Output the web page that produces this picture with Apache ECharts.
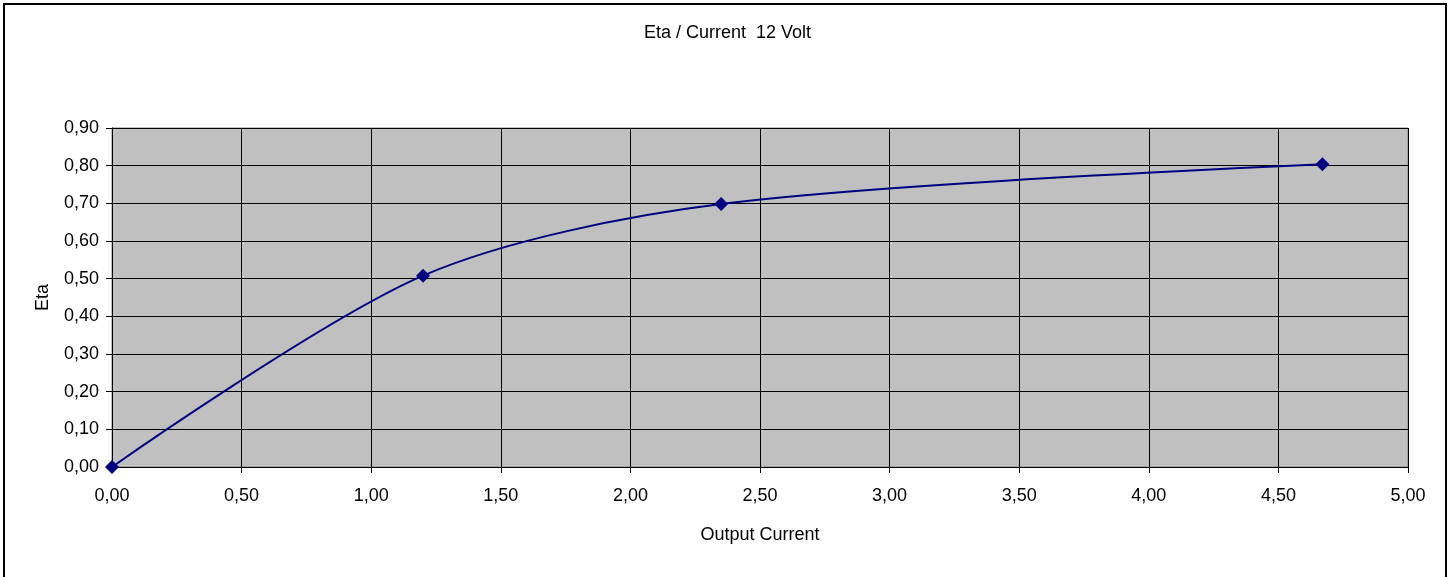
<!DOCTYPE html>
<html>
<head>
<meta charset="utf-8">
<script src="https://cdn.jsdelivr.net/npm/echarts@6/dist/echarts.min.js"></script>
<style>html,body{margin:0;padding:0;background:#fff}#c{width:1455px;height:577px}</style>
</head>
<body>
<div id="c"></div>
<script>
var titleText = 'Eta / Current  12 Volt';
var xName = 'Output Current';
var yName = 'Eta';
var currents = [0, 1.2, 2.35, 4.67];
var etaValues = [0, 0.508, 0.698, 0.804];

var fmt = function (v) { return v.toFixed(2).replace('.', ','); };
var FONT = 'Liberation Sans';
var FS = 18;
var chart = echarts.init(document.getElementById('c'));
chart.setOption({
  animation: false,
  backgroundColor: '#fff',
  title: {
    text: titleText, left: 'center', top: 19,
    textStyle: { fontFamily: FONT, fontSize: FS, fontWeight: 'normal', color: '#000' }
  },
  graphic: [{
    type: 'rect', shape: { x: 4, y: 4, width: 1442, height: 590 },
    style: { fill: 'none', stroke: '#000', lineWidth: 2 }, z: 100
  }],
  grid: { left: 112, top: 128, right: 47, bottom: 110, show: true, backgroundColor: '#c0c0c0', borderColor: '#808080', borderWidth: 1 },
  xAxis: {
    type: 'value', min: 0, max: 5, interval: 0.5,
    name: xName, nameLocation: 'middle', nameGap: 59,
    nameTextStyle: { fontFamily: FONT, fontSize: FS, color: '#000' },
    axisLine: { lineStyle: { color: '#000', width: 1 } },
    axisTick: { show: true, length: 6, lineStyle: { color: '#000' } },
    axisLabel: { formatter: fmt, fontFamily: FONT, fontSize: FS, color: '#000', margin: 20 },
    splitLine: { show: true, lineStyle: { color: '#000', width: 1 } }
  },
  yAxis: {
    type: 'value', min: 0, max: 0.9, interval: 0.1,
    name: yName, nameLocation: 'middle', nameGap: 60, nameRotate: 90,
    nameTextStyle: { fontFamily: FONT, fontSize: FS, color: '#000' },
    axisLine: { show: true, lineStyle: { color: '#000', width: 1 } },
    axisTick: { show: true, length: 6, lineStyle: { color: '#000' } },
    axisLabel: { formatter: fmt, fontFamily: FONT, fontSize: FS, color: '#000', margin: 13 },
    splitLine: { show: true, lineStyle: { color: '#000', width: 1 } }
  },
  series: [{
    type: 'line',
    data: currents.map(function (c, i) { return [c, etaValues[i]]; }),
    smooth: 0.3,
    symbol: 'diamond', symbolSize: 14,
    itemStyle: { color: '#000080' },
    lineStyle: { color: '#000080', width: 2 }
  }]
});
</script>
</body>
</html>
